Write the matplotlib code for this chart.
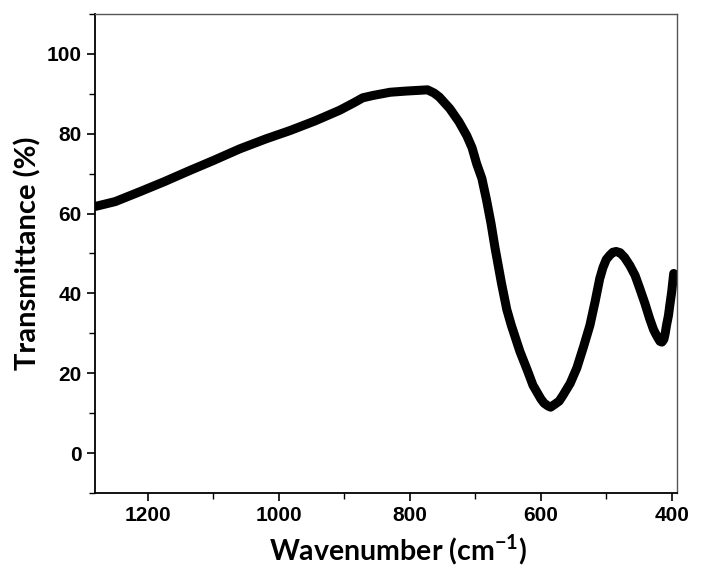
import matplotlib
matplotlib.use("Agg")
import matplotlib.pyplot as plt
from matplotlib.ticker import MultipleLocator

# FTIR spectrum (cm-1, % transmittance)
wavenumber = [1280, 1250, 1212, 1175, 1136, 1100, 1060, 1020, 983, 945,
              907, 885, 872, 856, 830, 805, 773, 763, 755, 739,
              725, 713, 705, 698, 690, 683, 676, 670, 660, 652,
              645, 632, 620, 612, 600, 595, 589, 585, 578, 572,
              566, 555, 545, 535, 525, 517, 510, 505, 500, 495,
              490, 485, 479, 472, 464, 456, 449, 441, 434, 428,
              425, 421, 418, 415, 412, 410, 408, 405, 403, 400,
              397]
transmittance = [61.8, 63.0, 65.5, 68.0, 70.8, 73.3, 76.2, 78.7, 80.8, 83.2,
                 85.9, 87.8, 89.0, 89.6, 90.4, 90.7, 91.0, 90.2, 89.2, 86.3,
                 83.0, 79.5, 76.5, 72.5, 68.8, 63.5, 57.5, 51.5, 42.5, 36.0,
                 32.0, 25.5, 20.5, 17.0, 13.6, 12.5, 11.8, 11.5, 12.3, 13.0,
                 14.5, 17.5, 21.3, 26.5, 32.0, 38.0, 43.7, 46.5, 48.5, 49.5,
                 50.3, 50.5, 50.2, 49.0, 47.0, 44.5, 41.3, 37.5, 33.8, 31.0,
                 30.0, 28.8, 28.0, 27.8, 28.5, 30.0, 32.0, 34.5, 37.0, 40.5,
                 45.0]

x_ticks = [1200, 1000, 800, 600, 400]
y_ticks = [0, 20, 40, 60, 80, 100]

plt.rcParams["font.family"] = ["Liberation Sans", "DejaVu Sans"]
plt.rcParams["mathtext.fontset"] = "custom"
plt.rcParams["mathtext.bf"] = "Lato:bold"

fig = plt.figure(figsize=(7.03, 5.69), dpi=100)
ax = fig.add_axes([0.135, 0.1336, 0.828, 0.8418])

ax.plot(wavenumber, transmittance, color="black", lw=6.5,
        solid_joinstyle="round", solid_capstyle="round")

ax.set_xlim(1281, 392)
ax.set_ylim(-10, 110)
ax.set_xticks(x_ticks)
ax.set_yticks(y_ticks)
ax.xaxis.set_minor_locator(MultipleLocator(100))
ax.yaxis.set_minor_locator(MultipleLocator(10))

ax.tick_params(which="major", direction="out", length=6, width=1.2,
               labelsize=15, top=False, right=False)
ax.tick_params(which="minor", direction="out", length=4, width=1.0,
               top=False, right=False)
for lab in ax.get_xticklabels() + ax.get_yticklabels():
    lab.set_fontweight("bold")

for side in ("left", "bottom"):
    ax.spines[side].set_linewidth(1.3)
    ax.spines[side].set_color("black")
for side in ("top", "right"):
    ax.spines[side].set_linewidth(1.0)
    ax.spines[side].set_color("#555555")

ax.set_xlabel(r"Wavenumber (cm$^{\mathbf{-1}}$)", fontsize=20.5,
              fontweight="bold", family="Lato")
ax.set_ylabel("Transmittance (%)", fontsize=21, fontweight="bold",
              family="Lato")
ax.xaxis.set_label_coords(0.52, -0.082)
ax.yaxis.set_label_coords(-0.091, 0.5)

fig.savefig("out.png", dpi=100)
